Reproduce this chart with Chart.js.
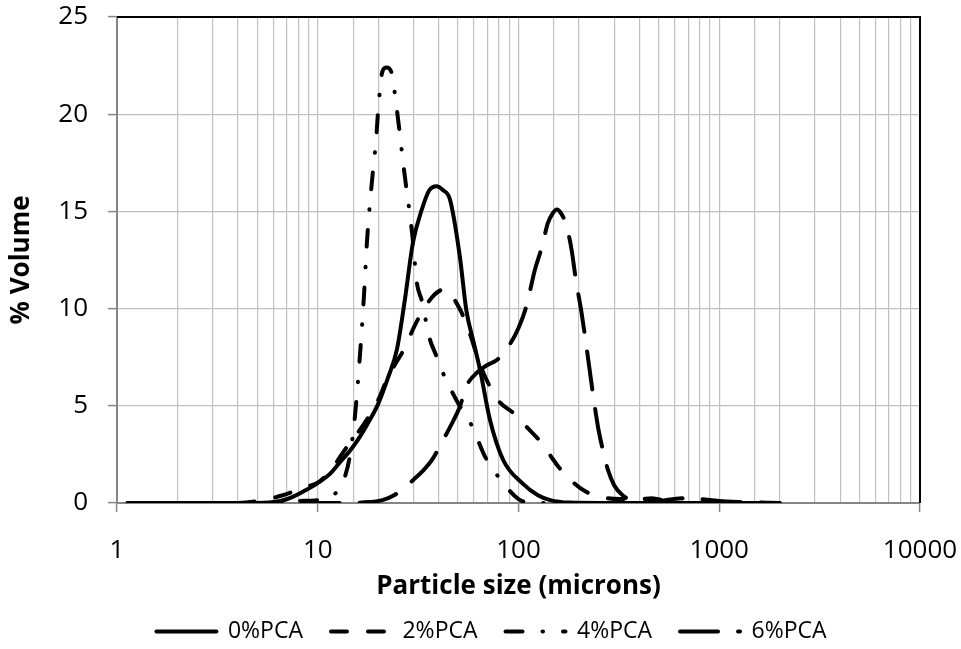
<!DOCTYPE html>
<html>
<head>
<meta charset="utf-8">
<title>Particle size distribution</title>
<script src="https://cdn.jsdelivr.net/npm/chart.js@4.4.0/dist/chart.umd.min.js"></script>
<style>
  html, body { margin: 0; padding: 0; background: #fff; }
  #wrap { width: 961px; height: 649px; }
</style>
</head>
<body>
<div id="wrap"><canvas id="psdChart" width="961" height="649"></canvas></div>
<script>
// Particle sizes (microns) and % volume for each mix
const sizes0 = [1.13, 5, 6.5, 7.3, 8.5, 9.9, 11.5, 12.9, 14.5, 16.2, 18, 20, 22.3, 24.8, 27.2, 29.8, 33, 36, 39, 42, 45.6, 51, 55, 60, 64.5, 72, 84, 105, 125, 144, 180, 250, 2000];
const vol0   = [0, 0, 0.1, 0.26, 0.6, 1.0, 1.5, 2.1, 2.7, 3.4, 4.2, 5.1, 6.4, 7.9, 10.5, 13.4, 15.1, 16.1, 16.3, 16.1, 15.6, 12.7, 9.9, 8.2, 6.8, 4.3, 2.2, 1.0, 0.4, 0.15, 0.02, 0, 0];

const sizes2 = [1.13, 4, 5, 6.7, 8.5, 10.2, 12, 14, 15.8, 17.6, 20, 22, 24.5, 27.2, 30, 33.4, 38, 43, 47, 52, 56, 65, 79, 95, 110, 130, 145, 160, 190, 215, 260, 320, 400, 460, 550, 700, 2000];
const vol2   = [0, 0, 0.1, 0.4, 0.8, 1.1, 1.9, 2.9, 3.6, 4.3, 5.3, 6.3, 7.2, 8.0, 9.0, 9.9, 10.7, 11.0, 10.6, 9.8, 9.0, 7.0, 5.3, 4.6, 3.9, 3.1, 2.4, 1.8, 1.0, 0.6, 0.3, 0.2, 0.2, 0.25, 0.1, 0, 0];

const sizes4 = [1.13, 5, 8, 10, 11.5, 12.5, 13.5, 14.5, 15.3, 16.2, 17, 17.6, 18.8, 19.5, 20, 21, 22, 23.2, 24.8, 27, 29.5, 31.2, 33, 36, 38.5, 42, 49, 59, 68, 83, 100, 120, 2000];
const vol4   = [0, 0, 0.1, 0.15, 0.3, 0.6, 1.2, 2.5, 4.4, 7.5, 10.7, 13.5, 17.0, 18.6, 20.2, 22.2, 22.4, 22.2, 20.2, 17.0, 13.9, 11.3, 10.4, 8.5, 7.7, 6.7, 5.3, 3.9, 2.4, 1.1, 0.2, 0, 0];

const sizes6 = [1.13, 13, 18, 21, 24, 26.7, 30, 33, 37, 41.4, 45.6, 51, 55, 62, 70, 78, 91, 100, 110, 120, 131, 140, 148, 155, 163, 174, 184, 193, 206, 219, 235, 250, 265, 279, 300, 330, 390, 500, 650, 800, 1000, 1300, 2000];
const vol6   = [0, 0, 0.05, 0.15, 0.4, 0.75, 1.2, 1.6, 2.2, 3.1, 3.9, 4.95, 6.0, 6.7, 7.1, 7.35, 8.2, 9.0, 10.2, 11.9, 13.2, 14.4, 14.9, 15.1, 14.9, 14.2, 13.0, 11.5, 9.8, 7.9, 5.6, 3.8, 2.6, 1.7, 0.9, 0.4, 0.05, 0.1, 0.25, 0.2, 0.1, 0.05, 0];

const seriesNames = ['0%PCA', '2%PCA', '4%PCA', '6%PCA'];
const yTicks = [0, 5, 10, 15, 20, 25];

const FONT = "'Open Sans', sans-serif";
const GRID_COLOR = '#c0c0c0';
const AXIS_COLOR = '#868686';
const LEGEND_SHIFT = 11;

function toPoints(xs, ys) {
    return xs.map(function(x, i) { return { x: x, y: ys[i] }; });
}

function isDecade(v) {
    const l = Math.log10(v);
    return Math.abs(l - Math.round(l)) < 1e-6;
}

function lineSet(label, xs, ys, dash) {
    return {
        label: label,
        data: toPoints(xs, ys),
        borderColor: '#000',
        backgroundColor: '#000',
        borderWidth: 4,
        borderDash: dash,
        borderCapStyle: 'round',
        borderJoinStyle: 'round',
        cubicInterpolationMode: 'monotone',
        pointRadius: 0,
        fill: false
    };
}

// Black frame on the top and right of the plot area, legend row placement
const plotFrame = {
    id: 'plotFrame',
    afterLayout(chart) {
        const legend = chart.legend;
        legend.top = chart.chartArea.bottom + 89;
        legend.bottom = chart.height;
    },
    beforeDraw(chart) {
        const legend = chart.legend;
        legend.left = LEGEND_SHIFT;
        legend.right = chart.width + LEGEND_SHIFT;
    },
    beforeDatasetsDraw(chart) {
        const a = chart.chartArea;
        const ctx = chart.ctx;
        ctx.save();
        ctx.strokeStyle = '#000';
        ctx.lineWidth = 2;
        ctx.beginPath();
        ctx.moveTo(a.left, a.top);
        ctx.lineTo(a.right, a.top);
        ctx.lineTo(a.right, a.bottom);
        ctx.stroke();
        ctx.restore();
    }
};

const ctx = document.getElementById('psdChart');
new Chart(ctx, {
    type: 'line',
    data: {
        datasets: [
            lineSet(seriesNames[0], sizes0, vol0, []),
            lineSet(seriesNames[1], sizes2, vol2, [16, 21]),
            lineSet(seriesNames[2], sizes4, vol4, [17, 20, 0.5, 20]),
            lineSet(seriesNames[3], sizes6, vol6, [38, 20])
        ]
    },
    options: {
        responsive: false,
        animation: false,
        events: [],
        layout: {
            padding: { top: 17, right: 41, bottom: 0, left: 0 }
        },
        plugins: {
            tooltip: { enabled: false },
            legend: {
                position: 'bottom',
                maxHeight: 40,
                labels: {
                    usePointStyle: true,
                    pointStyleWidth: 60,
                    padding: 28,
                    color: '#000',
                    font: { family: FONT, size: 23 },
                    generateLabels: function(chart) {
                        const items = Chart.defaults.plugins.legend.labels.generateLabels(chart);
                        items.forEach(function(item) {
                            const ds = chart.data.datasets[item.datasetIndex];
                            item.pointStyle = 'line';
                            item.rotation = 180;
                            item.lineDash = ds.borderDash;
                            item.lineCap = 'round';
                            item.lineWidth = ds.borderWidth;
                            item.strokeStyle = ds.borderColor;
                        });
                        return items;
                    }
                }
            }
        },
        scales: {
            x: {
                type: 'logarithmic',
                min: 1,
                max: 10000,
                afterFit: function(scale) {
                    scale.height = 106;
                    scale.paddingLeft = 0;
                    scale.paddingRight = 0;
                },
                border: { color: AXIS_COLOR, width: 2 },
                grid: {
                    color: GRID_COLOR,
                    lineWidth: 1.2,
                    tickLength: 9,
                    tickWidth: 1.5,
                    tickColor: function(c) {
                        return c.tick && isDecade(c.tick.value) ? AXIS_COLOR : 'rgba(0,0,0,0)';
                    }
                },
                ticks: {
                    autoSkip: false,
                    maxRotation: 0,
                    padding: 23,
                    color: '#000',
                    font: { family: FONT, size: 26 },
                    callback: function(v) { return isDecade(v) ? String(Math.round(v)) : ''; }
                },
                title: {
                    display: true,
                    text: 'Particle size (microns)',
                    color: '#000',
                    font: { family: FONT, size: 26, weight: 'bold' },
                    padding: { top: 0, bottom: 7 }
                }
            },
            y: {
                min: yTicks[0],
                max: yTicks[yTicks.length - 1],
                afterFit: function(scale) {
                    scale.width = 117;
                    scale.paddingTop = 0;
                    scale.paddingBottom = 0;
                },
                afterBuildTicks: function(scale) {
                    scale.ticks = yTicks.map(function(v) { return { value: v }; });
                },
                border: { color: AXIS_COLOR, width: 2 },
                grid: {
                    color: GRID_COLOR,
                    lineWidth: 1.2,
                    tickLength: 9,
                    tickWidth: 1.5,
                    tickColor: AXIS_COLOR
                },
                ticks: {
                    padding: 20,
                    color: '#000',
                    font: { family: FONT, size: 26 }
                },
                title: {
                    display: true,
                    text: '% Volume',
                    color: '#000',
                    font: { family: FONT, size: 26, weight: 'bold' },
                    padding: { top: 6, bottom: 0 }
                }
            }
        }
    },
    plugins: [plotFrame]
});
</script>
</body>
</html>
